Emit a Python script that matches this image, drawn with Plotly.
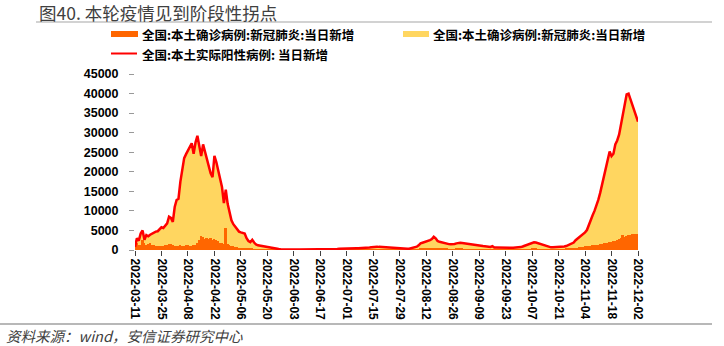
import pandas as pd
import plotly.graph_objects as go

# ---------------- data ----------------
start_date = "2022-03-11"
end_date = "2022-12-02"

# 全国:本土实际阳性病例: 当日新增 (red line / yellow area)
total_positive = [
    800, 3000, 2400, 4200, 5000, 2600, 3800, 3500, 3900, 4200,
    4300, 4700, 4800, 5300, 5800, 5600, 6100, 6800, 8500, 8200,
    7200, 11000, 12800, 13100, 17500, 21000, 23500, 24500, 25400, 26500,
    27300, 24600, 27500, 29200, 26500, 24000, 27000, 25000, 22900, 21000,
    19600, 18600, 24100, 22500, 20300, 18000, 16100, 12000, 15400, 11800,
    10000, 7600, 6600, 5900, 5200, 4700, 4500, 4400, 4200, 3000,
    2300, 2000, 2600, 1900, 1400, 1200, 1100, 1050, 950, 900,
    850, 700, 550, 430, 350, 300, 250, 200, 170, 150,
    140, 130, 120, 110, 100, 100, 110, 100, 100, 110,
    120, 130, 150, 170, 160, 170, 180, 160, 150, 140,
    130, 120, 120, 130, 140, 150, 200, 280, 350, 380,
    400, 420, 430, 440, 420, 450, 480, 450, 430, 440,
    480, 520, 560, 600, 650, 700, 780, 820, 850, 800,
    760, 750, 720, 700, 680, 640, 560, 480, 430, 400,
    380, 300, 250, 280, 330, 340, 420, 550, 700, 850,
    1200, 1700, 1860, 2000, 2100, 2300, 2540, 2800, 3400, 3000,
    2300, 2100, 1950, 1860, 1700, 1600, 1500, 1450, 1440, 1550,
    1700, 1800, 1860, 1800, 1750, 1700, 1600, 1500, 1400, 1350,
    1300, 1270, 1200, 1100, 1000, 920, 850, 800, 780, 1000,
    620, 650, 620, 600, 600, 590, 600, 610, 590, 580,
    600, 590, 600, 650, 750, 900, 1050, 1270, 1500, 1700,
    1850, 1950, 1900, 1750, 1550, 1400, 1270, 1050, 850, 720,
    680, 680, 700, 690, 720, 800, 850, 900, 1000, 1200,
    1440, 1600, 1900, 2500, 2900, 3300, 3600, 4000, 4500, 5100,
    6500, 8000, 8900, 10000, 11200, 12800, 14600, 16800, 18500, 21000,
    23000, 25200, 24000, 24600, 27000, 28000, 29500, 32000, 34000, 36500,
    39800, 40000, 38500, 37200, 35800, 34500, 32800,
]

# 全国:本土确诊病例:新冠肺炎:当日新增 (orange bars)
confirmed = [
    1000, 1800, 1400, 1300, 2500, 1700, 1200, 1500, 1900, 1400,
    1300, 1000, 1100, 900, 1000, 1100, 1200, 1400, 1600, 1500,
    1200, 1100, 1000, 1100, 1200, 1100, 1000, 1200, 1300, 1000,
    1100, 1200, 1400, 1900, 2500, 3600, 3200, 2900, 3100, 2800,
    3000, 2600, 2700, 2500, 2200, 1900, 1700, 1600, 5700, 1500,
    1300, 1100, 900, 800, 700, 600, 600, 500, 500, 400,
    350, 300, 300, 250, 250, 200, 200, 150, 150, 120,
    100, 90, 80, 60, 50, 40, 30, 30, 25, 25,
    20, 20, 20, 20, 15, 15, 20, 20, 20, 20,
    25, 30, 30, 35, 30, 30, 35, 30, 25, 20,
    20, 20, 20, 25, 30, 30, 40, 50, 60, 70,
    70, 80, 80, 75, 70, 80, 90, 85, 80, 80,
    90, 100, 100, 110, 120, 130, 140, 150, 150, 140,
    130, 130, 120, 110, 110, 100, 90, 80, 70, 60,
    60, 50, 50, 50, 60, 60, 80, 100, 130, 160,
    200, 280, 300, 320, 350, 380, 400, 420, 450, 400,
    380, 350, 320, 300, 280, 260, 250, 240, 230, 250,
    260, 280, 270, 260, 250, 240, 220, 200, 190, 180,
    170, 160, 150, 140, 130, 120, 110, 100, 100, 120,
    90, 90, 90, 80, 80, 80, 80, 80, 80, 80,
    80, 80, 80, 90, 100, 120, 150, 180, 210, 240,
    260, 280, 270, 250, 230, 200, 180, 150, 120, 100,
    100, 100, 110, 110, 120, 180, 200, 250, 300, 350,
    400, 450, 500, 550, 600, 700, 800, 850, 900, 950,
    1000, 1100, 1200, 1300, 1350, 1400, 1500, 1600, 1700, 1800,
    1900, 2000, 2100, 2200, 2400, 2500, 2700, 3000, 3800, 3400,
    3600, 3800, 3900, 4000, 4100, 4000, 4000,
]

x_tick_labels = [
    "2022-03-11", "2022-03-25", "2022-04-08", "2022-04-22", "2022-05-06",
    "2022-05-20", "2022-06-03", "2022-06-17", "2022-07-01", "2022-07-15",
    "2022-07-29", "2022-08-12", "2022-08-26", "2022-09-09", "2022-09-23",
    "2022-10-07", "2022-10-21", "2022-11-04", "2022-11-18", "2022-12-02",
]
y_tick_values = [0, 5000, 10000, 15000, 20000, 25000, 30000, 35000, 40000, 45000]

title_text = "图40. 本轮疫情见到阶段性拐点"
legend_names = [
    "全国:本土确诊病例:新冠肺炎:当日新增",
    "全国:本土确诊病例:新冠肺炎:当日新增",
    "全国:本土实际阳性病例: 当日新增",
]
source_text = "资料来源：wind，安信证券研究中心"

# ---------------- style ----------------
ORANGE = "#FF6600"
YELLOW = "#FFD660"
RED = "#FF0000"
W, H = 724, 346
ML, MR, MT, MB = 135, 86, 74, 96
PW, PH = W - ML - MR, H - MT - MB
CJK = "Noto Sans CJK SC, Liberation Sans, sans-serif"
LAT = "Liberation Sans, Arial, sans-serif"


def px(xp):
    return (xp - ML) / PW


def py(yp):
    return (H - MB - yp) / PH


dates = pd.date_range(start_date, end_date, freq="D")

fig = go.Figure()
fig.add_trace(go.Scatter(
    x=dates, y=total_positive, mode="lines", fill="tozeroy",
    fillcolor=YELLOW, line=dict(width=0, color=YELLOW),
    showlegend=False, zorder=0, hoverinfo="skip",
))
fig.add_trace(go.Bar(
    x=dates, y=confirmed, marker=dict(color=ORANGE, line=dict(width=0)),
    showlegend=False, zorder=1,
))
fig.add_trace(go.Scatter(
    x=dates, y=total_positive, mode="lines",
    line=dict(color=RED, width=2.5), showlegend=False, zorder=2,
))

shapes = []
annotations = []

# title + rules
annotations.append(dict(
    x=px(37), y=py(12), xref="paper", yref="paper", xanchor="left", yanchor="middle",
    text=title_text, showarrow=False,
    font=dict(family=CJK, size=17.5, color="#404040"),
))
shapes.append(dict(type="line", xref="paper", yref="paper",
                   x0=px(36), x1=px(712), y0=py(22), y1=py(22),
                   line=dict(color="#A6A6A6", width=1.2)))
shapes.append(dict(type="line", xref="paper", yref="paper",
                   x0=px(0), x1=px(712), y0=py(324), y1=py(324),
                   line=dict(color="#A0A0A0", width=1.5)))
annotations.append(dict(
    x=px(4), y=py(335), xref="paper", yref="paper", xanchor="left", yanchor="middle",
    text=source_text, showarrow=False,
    font=dict(family=CJK, size=14.5, color="#404040", style="italic"),
))

# legend (manual)
shapes.append(dict(type="rect", xref="paper", yref="paper",
                   x0=px(111), x1=px(138), y0=py(31), y1=py(37),
                   fillcolor=ORANGE, line=dict(width=0)))
shapes.append(dict(type="rect", xref="paper", yref="paper",
                   x0=px(403), x1=px(429), y0=py(31), y1=py(37),
                   fillcolor=YELLOW, line=dict(width=0)))
shapes.append(dict(type="line", xref="paper", yref="paper",
                   x0=px(111), x1=px(137), y0=py(53.5), y1=py(53.5),
                   line=dict(color=RED, width=2)))
for name, (lx, ly) in zip(legend_names, [(140, 34), (431, 34), (140, 54.5)]):
    annotations.append(dict(
        x=px(lx), y=py(ly), xref="paper", yref="paper", xanchor="left", yanchor="middle",
        text="<b>" + name + "</b>", showarrow=False,
        font=dict(family=CJK, size=12.5, color="#000000"),
    ))

fig.update_layout(
    width=W, height=H,
    margin=dict(l=ML, r=MR, t=MT, b=MB, pad=0),
    paper_bgcolor="white", plot_bgcolor="white",
    barmode="overlay", bargap=0,
    showlegend=False,
    shapes=shapes, annotations=annotations,
    xaxis=dict(
        type="date", range=[start_date, end_date],
        tickmode="array", tickvals=x_tick_labels, ticktext=x_tick_labels,
        tickangle=90, tickfont=dict(family=LAT, size=12, color="#000000", weight="bold"),
        showline=True, linecolor="#404040", linewidth=1,
        ticks="outside", ticklen=5, tickcolor="#404040",
        showgrid=False, zeroline=False,
    ),
    yaxis=dict(
        range=[0, 45000], tickmode="array", tickvals=y_tick_values,
        ticktext=[str(v) for v in y_tick_values],
        tickfont=dict(family=LAT, size=12.5, color="#000000", weight="bold"),
        showline=True, linecolor="#999999", linewidth=1,
        ticks="outside", ticklen=5, tickcolor="#999999",
        ticklabelstandoff=8,
        showgrid=False, zeroline=False,
    ),
)

fig.write_html("out.html")
